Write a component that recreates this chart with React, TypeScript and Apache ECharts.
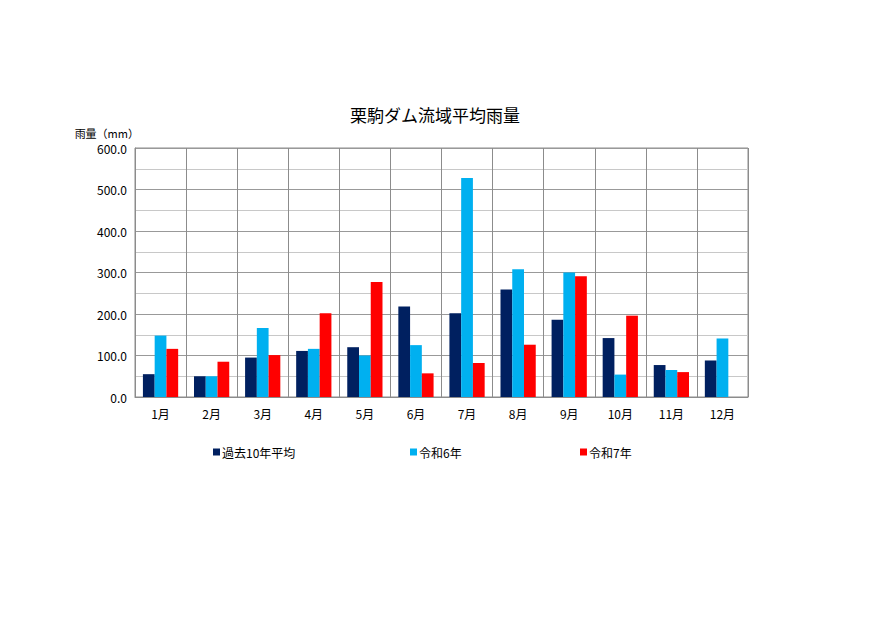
import React, { useEffect, useRef } from "react";
import * as echarts from "echarts";

const months = ["1月", "2月", "3月", "4月", "5月", "6月", "7月", "8月", "9月", "10月", "11月", "12月"];
const avg10 = [55, 50, 95, 111, 120, 218, 202, 259, 186, 142, 77, 88];
const reiwa6 = [148, 50, 166, 116, 100, 125, 528, 308, 300, 54, 65, 141];
const reiwa7 = [116, 85, 101, 202, 277, 57, 82, 126, 291, 196, 60, null];

const FONT = "'Noto Sans CJK JP', sans-serif";

const App: React.FC = () => {
  const chartRef = useRef<HTMLDivElement>(null);

  useEffect(() => {
    document.body.style.margin = "0";
    if (!chartRef.current) return;
    const myChart = echarts.init(chartRef.current, null, { renderer: "svg" });

    const legendItem = (name: string, left: number) => ({
      data: [name],
      left,
      top: 441,
      icon: "rect",
      itemWidth: 7,
      itemHeight: 7,
      itemGap: 2,
      textStyle: { fontFamily: FONT, fontSize: 12, color: "#000", padding: [0, 0, 0, -3] },
    });

    const option: echarts.EChartsOption = {
      animation: false,
      backgroundColor: "#fff",
      title: {
        text: "栗駒ダム流域平均雨量",
        left: 345,
        top: 101,
        textStyle: { fontFamily: FONT, fontSize: 17, fontWeight: "normal", color: "#000" },
      },
      legend: [
        legendItem("過去10年平均", 208),
        legendItem("令和6年", 405),
        legendItem("令和7年", 575),
      ],
      grid: {
        left: 135,
        right: 142,
        top: 148,
        bottom: 233,
        show: true,
        borderColor: "#8c8c8c",
        borderWidth: 1,
      },
      xAxis: {
        type: "category",
        data: months,
        axisLine: { lineStyle: { color: "#8c8c8c" } },
        axisTick: { show: false },
        axisLabel: { fontFamily: FONT, fontSize: 12, color: "#000", margin: 10 },
        splitLine: { show: true, lineStyle: { color: "#8c8c8c", width: 1 } },
      },
      yAxis: {
        type: "value",
        min: 0,
        max: 600,
        interval: 100,
        name: "雨量（mm）",
        nameLocation: "end",
        nameGap: 10,
        nameTextStyle: { fontFamily: FONT, fontSize: 11, color: "#000", align: "right", padding: [0, -4, 0, 0] },
        axisLine: { show: true, lineStyle: { color: "#8c8c8c" } },
        axisTick: { show: false },
        axisLabel: {
          fontFamily: FONT,
          fontSize: 12,
          color: "#000",
          margin: 8,
          formatter: (v: number) => v.toFixed(1),
        },
        splitLine: { show: true, lineStyle: { color: "#999", width: 1 } },
        minorTick: { show: false, splitNumber: 2 },
        minorSplitLine: { show: true, lineStyle: { color: "#c8c8c8", width: 1 } },
      },
      series: [
        {
          name: "過去10年平均",
          type: "bar",
          data: avg10,
          itemStyle: { color: "#002060" },
          barGap: "0%",
          barCategoryGap: "31%",
        },
        {
          name: "令和6年",
          type: "bar",
          data: reiwa6,
          itemStyle: { color: "#00B0F0" },
        },
        {
          name: "令和7年",
          type: "bar",
          data: reiwa7,
          itemStyle: { color: "#FF0000" },
        },
      ],
    };

    myChart.setOption(option);
    return () => {
      myChart.dispose();
    };
  }, []);

  return <div ref={chartRef} style={{ width: "890px", height: "630px" }} />;
};

export default App;
